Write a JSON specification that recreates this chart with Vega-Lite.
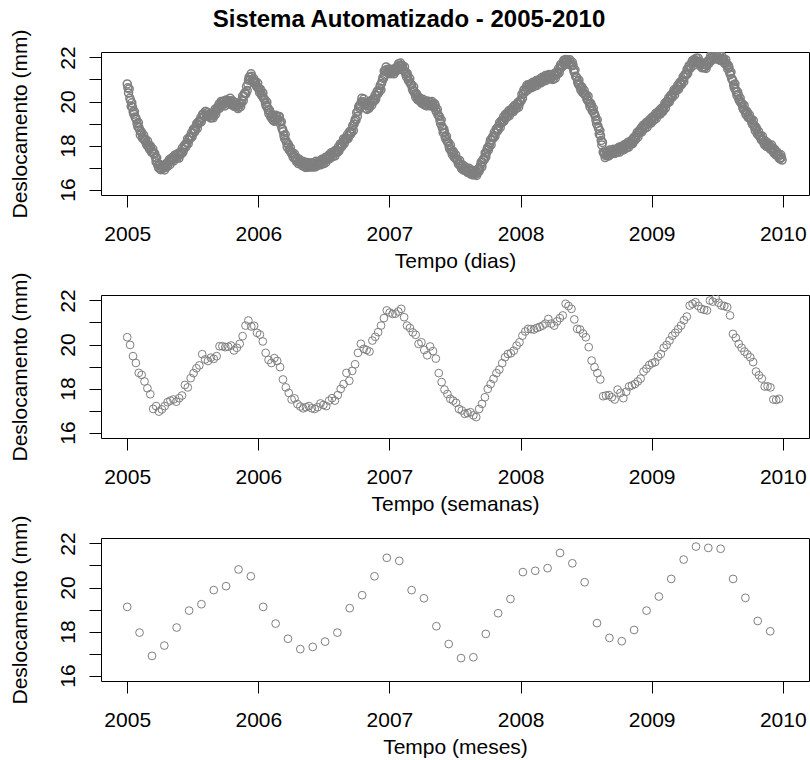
{
"$schema": "https://vega.github.io/schema/vega-lite/v6.json",
"background": "white",
"padding": {"left": 8, "top": 8, "right": 0, "bottom": 0},
"title": {"text": "Sistema Automatizado - 2005-2010", "fontSize": 24, "fontWeight": "bold", "font": "Liberation Sans", "color": "black", "anchor": "middle", "offset": -4},
"bounds": "flush",
"spacing": 100,
"config": {
  "view": {"stroke": "black", "strokeWidth": 1},
  "font": "Liberation Sans",
  "axis": {"domain": false, "grid": false, "ticks": true, "tickSize": 12, "tickColor": "black", "tickWidth": 1, "labelFont": "Liberation Sans", "labelFontSize": 21, "labelColor": "black", "labelOverlap": false, "labelFlush": false, "titleFont": "Liberation Sans", "titleFontSize": 21, "titleFontWeight": "normal", "titleColor": "black"},
  "axisX": {"labelPadding": 16},
  "axisY": {"labelAngle": -90, "labelAlign": "center", "labelBaseline": "alphabetic", "labelPadding": 15, "titleAngle": -90, "titleAlign": "center", "titleBaseline": "middle"}
},
"datasets": {
"dias": [
{"t":2005.00,"v":20.80},{"t":2005.01,"v":20.39},{"t":2005.02,"v":20.15},{"t":2005.03,"v":19.78},{"t":2005.04,"v":19.75},{"t":2005.05,"v":19.42},{"t":2005.06,"v":19.30},{"t":2005.07,"v":19.18},{"t":2005.08,"v":18.86},{"t":2005.09,"v":18.81},
{"t":2005.10,"v":18.48},{"t":2005.11,"v":18.57},{"t":2005.12,"v":18.35},{"t":2005.13,"v":18.27},{"t":2005.14,"v":18.28},{"t":2005.15,"v":18.02},{"t":2005.16,"v":18.03},{"t":2005.17,"v":17.83},{"t":2005.18,"v":17.92},{"t":2005.19,"v":17.72},
{"t":2005.20,"v":17.66},{"t":2005.21,"v":17.63},{"t":2005.22,"v":17.26},{"t":2005.23,"v":17.18},{"t":2005.24,"v":16.98},{"t":2005.25,"v":17.12},{"t":2005.26,"v":16.95},{"t":2005.27,"v":17.03},{"t":2005.28,"v":17.07},{"t":2005.29,"v":16.99},
{"t":2005.30,"v":17.15},{"t":2005.31,"v":17.10},{"t":2005.32,"v":17.35},{"t":2005.33,"v":17.29},{"t":2005.34,"v":17.38},{"t":2005.35,"v":17.48},{"t":2005.36,"v":17.39},{"t":2005.37,"v":17.53},{"t":2005.38,"v":17.42},{"t":2005.39,"v":17.65},
{"t":2005.40,"v":17.57},{"t":2005.41,"v":17.68},{"t":2005.42,"v":17.88},{"t":2005.43,"v":17.82},{"t":2005.44,"v":18.03},{"t":2005.45,"v":17.98},{"t":2005.46,"v":18.30},{"t":2005.47,"v":18.25},{"t":2005.48,"v":18.40},{"t":2005.49,"v":18.58},
{"t":2005.50,"v":18.56},{"t":2005.51,"v":18.73},{"t":2005.52,"v":18.72},{"t":2005.53,"v":19.00},{"t":2005.54,"v":18.97},{"t":2005.55,"v":19.10},{"t":2005.56,"v":19.26},{"t":2005.57,"v":19.24},{"t":2005.58,"v":19.43},{"t":2005.59,"v":19.38},
{"t":2005.60,"v":19.55},{"t":2005.61,"v":19.37},{"t":2005.62,"v":19.38},{"t":2005.63,"v":19.43},{"t":2005.64,"v":19.27},{"t":2005.65,"v":19.37},{"t":2005.66,"v":19.35},{"t":2005.67,"v":19.65},{"t":2005.68,"v":19.59},{"t":2005.69,"v":19.72},
{"t":2005.70,"v":19.88},{"t":2005.71,"v":19.82},{"t":2005.72,"v":19.96},{"t":2005.73,"v":19.85},{"t":2005.74,"v":20.02},{"t":2005.75,"v":19.95},{"t":2005.76,"v":20.02},{"t":2005.77,"v":20.05},{"t":2005.78,"v":19.97},{"t":2005.79,"v":20.03},
{"t":2005.80,"v":19.85},{"t":2005.81,"v":20.00},{"t":2005.82,"v":19.82},{"t":2005.83,"v":19.82},{"t":2005.84,"v":19.86},{"t":2005.85,"v":19.74},{"t":2005.86,"v":19.88},{"t":2005.87,"v":19.92},{"t":2005.88,"v":20.25},{"t":2005.89,"v":20.25},
{"t":2005.90,"v":20.40},{"t":2005.91,"v":20.68},{"t":2005.92,"v":20.79},{"t":2005.93,"v":21.11},{"t":2005.94,"v":21.10},{"t":2005.95,"v":21.15},{"t":2005.96,"v":20.92},{"t":2005.97,"v":20.90},{"t":2005.98,"v":20.90},{"t":2005.99,"v":20.66},
{"t":2006.00,"v":20.63},{"t":2006.01,"v":20.40},{"t":2006.02,"v":20.50},{"t":2006.03,"v":20.27},{"t":2006.04,"v":20.15},{"t":2006.05,"v":20.08},{"t":2006.06,"v":19.79},{"t":2006.07,"v":19.73},{"t":2006.08,"v":19.45},{"t":2006.09,"v":19.52},
{"t":2006.10,"v":19.27},{"t":2006.11,"v":19.18},{"t":2006.12,"v":19.28},{"t":2006.13,"v":19.19},{"t":2006.14,"v":19.31},{"t":2006.15,"v":19.15},{"t":2006.16,"v":19.32},{"t":2006.17,"v":18.97},{"t":2006.18,"v":18.78},{"t":2006.19,"v":18.63},
{"t":2006.20,"v":18.32},{"t":2006.21,"v":18.23},{"t":2006.22,"v":17.93},{"t":2006.23,"v":18.02},{"t":2006.24,"v":17.77},{"t":2006.25,"v":17.68},{"t":2006.26,"v":17.66},{"t":2006.27,"v":17.44},{"t":2006.28,"v":17.48},{"t":2006.29,"v":17.28},
{"t":2006.30,"v":17.40},{"t":2006.31,"v":17.24},{"t":2006.32,"v":17.22},{"t":2006.33,"v":17.26},{"t":2006.34,"v":17.09},{"t":2006.35,"v":17.15},{"t":2006.36,"v":17.00},{"t":2006.37,"v":17.23},{"t":2006.38,"v":17.07},{"t":2006.39,"v":17.08},
{"t":2006.40,"v":17.20},{"t":2006.41,"v":17.04},{"t":2006.42,"v":17.18},{"t":2006.43,"v":17.02},{"t":2006.44,"v":17.28},{"t":2006.45,"v":17.12},{"t":2006.46,"v":17.20},{"t":2006.47,"v":17.30},{"t":2006.48,"v":17.19},{"t":2006.49,"v":17.33},
{"t":2006.50,"v":17.18},{"t":2006.51,"v":17.45},{"t":2006.52,"v":17.37},{"t":2006.53,"v":17.45},{"t":2006.54,"v":17.58},{"t":2006.55,"v":17.49},{"t":2006.56,"v":17.61},{"t":2006.57,"v":17.50},{"t":2006.58,"v":17.75},{"t":2006.59,"v":17.67},
{"t":2006.60,"v":17.75},{"t":2006.61,"v":17.93},{"t":2006.62,"v":17.89},{"t":2006.63,"v":18.05},{"t":2006.64,"v":18.00},{"t":2006.65,"v":18.30},{"t":2006.66,"v":18.22},{"t":2006.67,"v":18.33},{"t":2006.68,"v":18.50},{"t":2006.69,"v":18.44},
{"t":2006.70,"v":18.63},{"t":2006.71,"v":18.60},{"t":2006.72,"v":18.90},{"t":2006.73,"v":18.97},{"t":2006.74,"v":19.20},{"t":2006.75,"v":19.50},{"t":2006.76,"v":19.56},{"t":2006.77,"v":19.81},{"t":2006.78,"v":19.82},{"t":2006.79,"v":20.15},
{"t":2006.80,"v":19.99},{"t":2006.81,"v":19.90},{"t":2006.82,"v":19.86},{"t":2006.83,"v":19.64},{"t":2006.84,"v":19.81},{"t":2006.85,"v":19.78},{"t":2006.86,"v":20.05},{"t":2006.87,"v":19.99},{"t":2006.88,"v":20.08},{"t":2006.89,"v":20.28},
{"t":2006.90,"v":20.26},{"t":2006.91,"v":20.48},{"t":2006.92,"v":20.45},{"t":2006.93,"v":20.75},{"t":2006.94,"v":20.82},{"t":2006.95,"v":21.10},{"t":2006.96,"v":21.38},{"t":2006.97,"v":21.39},{"t":2006.98,"v":21.45},{"t":2006.99,"v":21.30},
{"t":2007.00,"v":21.48},{"t":2007.01,"v":21.32},{"t":2007.02,"v":21.38},{"t":2007.03,"v":21.44},{"t":2007.04,"v":21.34},{"t":2007.05,"v":21.51},{"t":2007.06,"v":21.45},{"t":2007.07,"v":21.72},{"t":2007.08,"v":21.63},{"t":2007.09,"v":21.65},
{"t":2007.10,"v":21.63},{"t":2007.11,"v":21.39},{"t":2007.12,"v":21.35},{"t":2007.13,"v":21.12},{"t":2007.14,"v":21.18},{"t":2007.15,"v":20.92},{"t":2007.16,"v":20.82},{"t":2007.17,"v":20.76},{"t":2007.18,"v":20.49},{"t":2007.19,"v":20.45},
{"t":2007.20,"v":20.20},{"t":2007.21,"v":20.30},{"t":2007.22,"v":20.07},{"t":2007.23,"v":20.05},{"t":2007.24,"v":20.10},{"t":2007.25,"v":19.92},{"t":2007.26,"v":19.98},{"t":2007.27,"v":19.83},{"t":2007.28,"v":20.02},{"t":2007.29,"v":19.89},
{"t":2007.30,"v":19.88},{"t":2007.31,"v":19.98},{"t":2007.32,"v":19.82},{"t":2007.33,"v":19.89},{"t":2007.34,"v":19.74},{"t":2007.35,"v":19.80},{"t":2007.36,"v":19.52},{"t":2007.37,"v":19.40},{"t":2007.38,"v":19.32},{"t":2007.39,"v":18.99},
{"t":2007.40,"v":18.88},{"t":2007.41,"v":18.58},{"t":2007.42,"v":18.60},{"t":2007.43,"v":18.30},{"t":2007.44,"v":18.20},{"t":2007.45,"v":18.13},{"t":2007.46,"v":17.84},{"t":2007.47,"v":17.81},{"t":2007.48,"v":17.58},{"t":2007.49,"v":17.68},
{"t":2007.50,"v":17.45},{"t":2007.51,"v":17.38},{"t":2007.52,"v":17.36},{"t":2007.53,"v":17.14},{"t":2007.54,"v":17.15},{"t":2007.55,"v":16.95},{"t":2007.56,"v":17.10},{"t":2007.57,"v":16.92},{"t":2007.58,"v":16.90},{"t":2007.59,"v":16.96},
{"t":2007.60,"v":16.79},{"t":2007.61,"v":16.85},{"t":2007.62,"v":16.70},{"t":2007.63,"v":16.88},{"t":2007.64,"v":16.73},{"t":2007.65,"v":16.74},{"t":2007.66,"v":16.82},{"t":2007.67,"v":16.74},{"t":2007.68,"v":16.95},{"t":2007.69,"v":16.95},
{"t":2007.70,"v":17.25},{"t":2007.71,"v":17.24},{"t":2007.72,"v":17.42},{"t":2007.73,"v":17.66},{"t":2007.74,"v":17.66},{"t":2007.75,"v":17.91},{"t":2007.76,"v":17.93},{"t":2007.77,"v":18.25},{"t":2007.78,"v":18.25},{"t":2007.79,"v":18.40},
{"t":2007.80,"v":18.60},{"t":2007.81,"v":18.58},{"t":2007.82,"v":18.77},{"t":2007.83,"v":18.74},{"t":2007.84,"v":19.04},{"t":2007.85,"v":19.01},{"t":2007.86,"v":19.12},{"t":2007.87,"v":19.30},{"t":2007.88,"v":19.24},{"t":2007.89,"v":19.39},
{"t":2007.90,"v":19.32},{"t":2007.91,"v":19.58},{"t":2007.92,"v":19.50},{"t":2007.93,"v":19.58},{"t":2007.94,"v":19.72},{"t":2007.95,"v":19.64},{"t":2007.96,"v":19.78},{"t":2007.97,"v":19.70},{"t":2007.98,"v":19.96},{"t":2007.99,"v":19.89},
{"t":2008.00,"v":20.08},{"t":2008.01,"v":20.33},{"t":2008.02,"v":20.34},{"t":2008.03,"v":20.55},{"t":2008.04,"v":20.50},{"t":2008.05,"v":20.75},{"t":2008.06,"v":20.65},{"t":2008.07,"v":20.70},{"t":2008.08,"v":20.81},{"t":2008.09,"v":20.69},
{"t":2008.10,"v":20.81},{"t":2008.11,"v":20.72},{"t":2008.12,"v":20.95},{"t":2008.13,"v":20.85},{"t":2008.14,"v":20.90},{"t":2008.15,"v":21.03},{"t":2008.16,"v":20.92},{"t":2008.17,"v":21.03},{"t":2008.18,"v":20.95},{"t":2008.19,"v":21.18},
{"t":2008.20,"v":21.07},{"t":2008.21,"v":21.12},{"t":2008.22,"v":21.23},{"t":2008.23,"v":21.04},{"t":2008.24,"v":21.11},{"t":2008.25,"v":21.02},{"t":2008.26,"v":21.28},{"t":2008.27,"v":21.21},{"t":2008.28,"v":21.30},{"t":2008.29,"v":21.50},
{"t":2008.30,"v":21.49},{"t":2008.31,"v":21.68},{"t":2008.32,"v":21.62},{"t":2008.33,"v":21.88},{"t":2008.34,"v":21.79},{"t":2008.35,"v":21.85},{"t":2008.36,"v":21.88},{"t":2008.37,"v":21.72},{"t":2008.38,"v":21.78},{"t":2008.39,"v":21.62},
{"t":2008.40,"v":21.65},{"t":2008.41,"v":21.32},{"t":2008.42,"v":21.15},{"t":2008.43,"v":21.08},{"t":2008.44,"v":20.79},{"t":2008.45,"v":20.75},{"t":2008.46,"v":20.52},{"t":2008.47,"v":20.62},{"t":2008.48,"v":20.39},{"t":2008.49,"v":20.32},
{"t":2008.50,"v":20.30},{"t":2008.51,"v":20.06},{"t":2008.52,"v":20.01},{"t":2008.53,"v":19.75},{"t":2008.54,"v":19.82},{"t":2008.55,"v":19.57},{"t":2008.56,"v":19.47},{"t":2008.57,"v":19.33},{"t":2008.58,"v":18.99},{"t":2008.59,"v":18.88},
{"t":2008.60,"v":18.52},{"t":2008.61,"v":18.45},{"t":2008.62,"v":18.02},{"t":2008.63,"v":17.70},{"t":2008.64,"v":17.63},{"t":2008.65,"v":17.54},{"t":2008.66,"v":17.68},{"t":2008.67,"v":17.52},{"t":2008.68,"v":17.80},{"t":2008.69,"v":17.65},
{"t":2008.70,"v":17.72},{"t":2008.71,"v":17.83},{"t":2008.72,"v":17.64},{"t":2008.73,"v":17.81},{"t":2008.74,"v":17.70},{"t":2008.75,"v":17.92},{"t":2008.76,"v":17.82},{"t":2008.77,"v":17.88},{"t":2008.78,"v":17.98},{"t":2008.79,"v":17.87},
{"t":2008.80,"v":17.99},{"t":2008.81,"v":17.90},{"t":2008.82,"v":18.15},{"t":2008.83,"v":18.05},{"t":2008.84,"v":18.12},{"t":2008.85,"v":18.26},{"t":2008.86,"v":18.19},{"t":2008.87,"v":18.36},{"t":2008.88,"v":18.32},{"t":2008.89,"v":18.60},
{"t":2008.90,"v":18.55},{"t":2008.91,"v":18.65},{"t":2008.92,"v":18.80},{"t":2008.93,"v":18.74},{"t":2008.94,"v":18.88},{"t":2008.95,"v":18.80},{"t":2008.96,"v":19.05},{"t":2008.97,"v":18.99},{"t":2008.98,"v":19.08},{"t":2008.99,"v":19.20},
{"t":2009.00,"v":19.11},{"t":2009.01,"v":19.25},{"t":2009.02,"v":19.18},{"t":2009.03,"v":19.45},{"t":2009.04,"v":19.39},{"t":2009.05,"v":19.48},{"t":2009.06,"v":19.60},{"t":2009.07,"v":19.51},{"t":2009.08,"v":19.65},{"t":2009.09,"v":19.62},
{"t":2009.10,"v":19.92},{"t":2009.11,"v":19.89},{"t":2009.12,"v":20.00},{"t":2009.13,"v":20.16},{"t":2009.14,"v":20.10},{"t":2009.15,"v":20.28},{"t":2009.16,"v":20.24},{"t":2009.17,"v":20.52},{"t":2009.18,"v":20.47},{"t":2009.19,"v":20.58},
{"t":2009.20,"v":20.74},{"t":2009.21,"v":20.69},{"t":2009.22,"v":20.86},{"t":2009.23,"v":20.81},{"t":2009.24,"v":21.12},{"t":2009.25,"v":21.11},{"t":2009.26,"v":21.26},{"t":2009.27,"v":21.46},{"t":2009.28,"v":21.45},{"t":2009.29,"v":21.63},
{"t":2009.30,"v":21.58},{"t":2009.31,"v":21.85},{"t":2009.32,"v":21.79},{"t":2009.33,"v":21.86},{"t":2009.34,"v":21.97},{"t":2009.35,"v":21.79},{"t":2009.36,"v":21.83},{"t":2009.37,"v":21.62},{"t":2009.38,"v":21.75},{"t":2009.39,"v":21.57},
{"t":2009.40,"v":21.58},{"t":2009.41,"v":21.68},{"t":2009.42,"v":21.64},{"t":2009.43,"v":21.83},{"t":2009.44,"v":21.80},{"t":2009.45,"v":22.08},{"t":2009.46,"v":21.99},{"t":2009.47,"v":22.05},{"t":2009.48,"v":22.12},{"t":2009.49,"v":21.96},
{"t":2009.50,"v":22.03},{"t":2009.51,"v":21.92},{"t":2009.52,"v":22.08},{"t":2009.53,"v":21.94},{"t":2009.54,"v":21.92},{"t":2009.55,"v":21.93},{"t":2009.56,"v":21.72},{"t":2009.57,"v":21.73},{"t":2009.58,"v":21.48},{"t":2009.59,"v":21.55},
{"t":2009.60,"v":21.22},{"t":2009.61,"v":21.05},{"t":2009.62,"v":20.93},{"t":2009.63,"v":20.62},{"t":2009.64,"v":20.55},{"t":2009.65,"v":20.28},{"t":2009.66,"v":20.32},{"t":2009.67,"v":20.03},{"t":2009.68,"v":19.95},{"t":2009.69,"v":19.90},
{"t":2009.70,"v":19.64},{"t":2009.71,"v":19.61},{"t":2009.72,"v":19.40},{"t":2009.73,"v":19.50},{"t":2009.74,"v":19.27},{"t":2009.75,"v":19.22},{"t":2009.76,"v":19.20},{"t":2009.77,"v":18.96},{"t":2009.78,"v":18.93},{"t":2009.79,"v":18.68},
{"t":2009.80,"v":18.76},{"t":2009.81,"v":18.52},{"t":2009.82,"v":18.45},{"t":2009.83,"v":18.46},{"t":2009.84,"v":18.24},{"t":2009.85,"v":18.25},{"t":2009.86,"v":18.04},{"t":2009.87,"v":18.18},{"t":2009.88,"v":17.99},{"t":2009.89,"v":17.98},
{"t":2009.90,"v":18.02},{"t":2009.91,"v":17.84},{"t":2009.92,"v":17.89},{"t":2009.93,"v":17.68},{"t":2009.94,"v":17.80},{"t":2009.95,"v":17.59},{"t":2009.96,"v":17.55},{"t":2009.97,"v":17.58},{"t":2009.98,"v":17.40},{"t":2009.99,"v":17.45},
{"t":2005.005,"v":20.62},{"t":2005.015,"v":20.57},{"t":2005.025,"v":20.04},{"t":2005.035,"v":19.94},{"t":2005.045,"v":19.53},{"t":2005.055,"v":19.54},{"t":2005.065,"v":19.25},{"t":2005.075,"v":19.00},{"t":2005.085,"v":19.04},{"t":2005.095,"v":18.70},
{"t":2005.105,"v":18.64},{"t":2005.115,"v":18.35},{"t":2005.125,"v":18.47},{"t":2005.135,"v":18.22},{"t":2005.145,"v":18.10},{"t":2005.155,"v":18.20},{"t":2005.165,"v":17.92},{"t":2005.175,"v":17.99},{"t":2005.185,"v":17.70},{"t":2005.195,"v":17.84},
{"t":2005.205,"v":17.61},{"t":2005.215,"v":17.45},{"t":2005.225,"v":17.44},{"t":2005.235,"v":17.07},{"t":2005.245,"v":17.14},{"t":2005.255,"v":16.90},{"t":2005.265,"v":17.07},{"t":2005.275,"v":16.98},{"t":2005.285,"v":16.89},{"t":2005.295,"v":17.17},
{"t":2005.305,"v":17.04},{"t":2005.315,"v":17.26},{"t":2005.325,"v":17.13},{"t":2005.335,"v":17.41},{"t":2005.345,"v":17.33},{"t":2005.355,"v":17.30},{"t":2005.365,"v":17.57},{"t":2005.375,"v":17.42},{"t":2005.385,"v":17.58},{"t":2005.395,"v":17.43},
{"t":2005.405,"v":17.69},{"t":2005.415,"v":17.63},{"t":2005.425,"v":17.70},{"t":2005.435,"v":18.00},{"t":2005.445,"v":17.92},{"t":2005.455,"v":18.14},{"t":2005.465,"v":18.08},{"t":2005.475,"v":18.37},{"t":2005.485,"v":18.35},{"t":2005.495,"v":18.40},
{"t":2005.505,"v":18.74},{"t":2005.515,"v":18.62},{"t":2005.525,"v":18.88},{"t":2005.535,"v":18.78},{"t":2005.545,"v":19.09},{"t":2005.555,"v":19.05},{"t":2005.565,"v":19.08},{"t":2005.575,"v":19.42},{"t":2005.585,"v":19.32},{"t":2005.595,"v":19.54},
{"t":2005.605,"v":19.33},{"t":2005.615,"v":19.49},{"t":2005.625,"v":19.33},{"t":2005.635,"v":19.25},{"t":2005.645,"v":19.45},{"t":2005.655,"v":19.26},{"t":2005.665,"v":19.51},{"t":2005.675,"v":19.43},{"t":2005.685,"v":19.71},{"t":2005.695,"v":19.67},
{"t":2005.705,"v":19.70},{"t":2005.715,"v":20.00},{"t":2005.725,"v":19.85},{"t":2005.735,"v":20.01},{"t":2005.745,"v":19.80},{"t":2005.755,"v":20.07},{"t":2005.765,"v":19.97},{"t":2005.775,"v":19.87},{"t":2005.785,"v":20.15},{"t":2005.795,"v":19.92},
{"t":2005.805,"v":20.01},{"t":2005.815,"v":19.78},{"t":2005.825,"v":19.94},{"t":2005.835,"v":19.77},{"t":2005.845,"v":19.68},{"t":2005.855,"v":19.92},{"t":2005.865,"v":19.77},{"t":2005.875,"v":20.08},{"t":2005.885,"v":20.03},{"t":2005.895,"v":20.37},
{"t":2005.905,"v":20.35},{"t":2005.915,"v":20.50},{"t":2005.925,"v":20.97},{"t":2005.935,"v":21.00},{"t":2005.945,"v":21.26},{"t":2005.955,"v":20.93},{"t":2005.965,"v":21.04},{"t":2005.975,"v":20.85},{"t":2005.985,"v":20.72},{"t":2005.995,"v":20.84},
{"t":2006.005,"v":20.52},{"t":2006.015,"v":20.56},{"t":2006.025,"v":20.28},{"t":2006.035,"v":20.39},{"t":2006.045,"v":20.10},{"t":2006.055,"v":19.90},{"t":2006.065,"v":19.97},{"t":2006.075,"v":19.62},{"t":2006.085,"v":19.61},{"t":2006.095,"v":19.30},
{"t":2006.105,"v":19.39},{"t":2006.115,"v":19.13},{"t":2006.125,"v":19.10},{"t":2006.135,"v":19.37},{"t":2006.145,"v":19.20},{"t":2006.155,"v":19.31},{"t":2006.165,"v":19.10},{"t":2006.175,"v":19.09},{"t":2006.185,"v":18.73},{"t":2006.195,"v":18.45},
{"t":2006.205,"v":18.50},{"t":2006.215,"v":18.12},{"t":2006.225,"v":18.09},{"t":2006.235,"v":17.80},{"t":2006.245,"v":17.89},{"t":2006.255,"v":17.63},{"t":2006.265,"v":17.48},{"t":2006.275,"v":17.62},{"t":2006.285,"v":17.37},{"t":2006.295,"v":17.44},
{"t":2006.305,"v":17.18},{"t":2006.315,"v":17.36},{"t":2006.325,"v":17.17},{"t":2006.335,"v":17.08},{"t":2006.345,"v":17.27},{"t":2006.355,"v":17.04},{"t":2006.365,"v":17.16},{"t":2006.375,"v":17.01},{"t":2006.385,"v":17.19},{"t":2006.395,"v":17.03},
{"t":2006.405,"v":17.02},{"t":2006.415,"v":17.22},{"t":2006.425,"v":17.07},{"t":2006.435,"v":17.18},{"t":2006.445,"v":17.06},{"t":2006.455,"v":17.24},{"t":2006.465,"v":17.15},{"t":2006.475,"v":17.12},{"t":2006.485,"v":17.37},{"t":2006.495,"v":17.22},
{"t":2006.505,"v":17.34},{"t":2006.515,"v":17.23},{"t":2006.525,"v":17.49},{"t":2006.535,"v":17.40},{"t":2006.545,"v":17.40},{"t":2006.555,"v":17.67},{"t":2006.565,"v":17.50},{"t":2006.575,"v":17.66},{"t":2006.585,"v":17.53},{"t":2006.595,"v":17.79},
{"t":2006.605,"v":17.70},{"t":2006.615,"v":17.75},{"t":2006.625,"v":18.07},{"t":2006.635,"v":17.94},{"t":2006.645,"v":18.16},{"t":2006.655,"v":18.08},{"t":2006.665,"v":18.34},{"t":2006.675,"v":18.28},{"t":2006.685,"v":18.32},{"t":2006.695,"v":18.62},
{"t":2006.705,"v":18.52},{"t":2006.715,"v":18.76},{"t":2006.725,"v":18.68},{"t":2006.735,"v":19.09},{"t":2006.745,"v":19.15},{"t":2006.755,"v":19.32},{"t":2006.765,"v":19.74},{"t":2006.775,"v":19.70},{"t":2006.785,"v":19.98},{"t":2006.795,"v":19.93},
{"t":2006.805,"v":20.11},{"t":2006.815,"v":19.85},{"t":2006.825,"v":19.68},{"t":2006.835,"v":19.82},{"t":2006.845,"v":19.70},{"t":2006.855,"v":19.94},{"t":2006.865,"v":19.83},{"t":2006.875,"v":20.11},{"t":2006.885,"v":20.03},{"t":2006.895,"v":20.10},
{"t":2006.905,"v":20.44},{"t":2006.915,"v":20.37},{"t":2006.925,"v":20.61},{"t":2006.935,"v":20.53},{"t":2006.945,"v":20.94},{"t":2006.955,"v":21.05},{"t":2006.965,"v":21.20},{"t":2006.975,"v":21.57},{"t":2006.985,"v":21.34},{"t":2006.995,"v":21.46},
{"t":2007.005,"v":21.26},{"t":2007.015,"v":21.44},{"t":2007.025,"v":21.33},{"t":2007.035,"v":21.26},{"t":2007.045,"v":21.52},{"t":2007.055,"v":21.40},{"t":2007.065,"v":21.61},{"t":2007.075,"v":21.50},{"t":2007.085,"v":21.75},{"t":2007.095,"v":21.60},
{"t":2007.105,"v":21.45},{"t":2007.115,"v":21.57},{"t":2007.125,"v":21.24},{"t":2007.135,"v":21.28},{"t":2007.145,"v":20.96},{"t":2007.155,"v":21.04},{"t":2007.165,"v":20.77},{"t":2007.175,"v":20.58},{"t":2007.185,"v":20.67},{"t":2007.195,"v":20.34},
{"t":2007.205,"v":20.36},{"t":2007.215,"v":20.08},{"t":2007.225,"v":20.19},{"t":2007.235,"v":20.00},{"t":2007.245,"v":19.92},{"t":2007.255,"v":20.10},{"t":2007.265,"v":19.87},{"t":2007.275,"v":19.99},{"t":2007.285,"v":19.80},{"t":2007.295,"v":20.01},
{"t":2007.305,"v":19.83},{"t":2007.315,"v":19.80},{"t":2007.325,"v":20.00},{"t":2007.335,"v":19.78},{"t":2007.345,"v":19.90},{"t":2007.355,"v":19.58},{"t":2007.365,"v":19.64},{"t":2007.375,"v":19.35},{"t":2007.385,"v":19.14},{"t":2007.395,"v":19.17},
{"t":2007.405,"v":18.77},{"t":2007.415,"v":18.74},{"t":2007.425,"v":18.38},{"t":2007.435,"v":18.42},{"t":2007.445,"v":18.15},{"t":2007.455,"v":17.95},{"t":2007.465,"v":18.02},{"t":2007.475,"v":17.70},{"t":2007.485,"v":17.74},{"t":2007.495,"v":17.46},
{"t":2007.505,"v":17.57},{"t":2007.515,"v":17.33},{"t":2007.525,"v":17.18},{"t":2007.535,"v":17.32},{"t":2007.545,"v":17.04},{"t":2007.555,"v":17.11},{"t":2007.565,"v":16.88},{"t":2007.575,"v":17.04},{"t":2007.585,"v":16.85},{"t":2007.595,"v":16.78},
{"t":2007.605,"v":16.97},{"t":2007.615,"v":16.74},{"t":2007.625,"v":16.86},{"t":2007.635,"v":16.66},{"t":2007.645,"v":16.85},{"t":2007.655,"v":16.69},{"t":2007.665,"v":16.64},{"t":2007.675,"v":16.92},{"t":2007.685,"v":16.84},{"t":2007.695,"v":17.11},
{"t":2007.705,"v":17.03},{"t":2007.715,"v":17.36},{"t":2007.725,"v":17.37},{"t":2007.735,"v":17.48},{"t":2007.745,"v":17.84},{"t":2007.755,"v":17.80},{"t":2007.765,"v":18.09},{"t":2007.775,"v":18.03},{"t":2007.785,"v":18.37},{"t":2007.795,"v":18.35},
{"t":2007.805,"v":18.42},{"t":2007.815,"v":18.76},{"t":2007.825,"v":18.66},{"t":2007.835,"v":18.90},{"t":2007.845,"v":18.82},{"t":2007.855,"v":19.13},{"t":2007.865,"v":19.07},{"t":2007.875,"v":19.12},{"t":2007.885,"v":19.42},{"t":2007.895,"v":19.28},
{"t":2007.905,"v":19.48},{"t":2007.915,"v":19.36},{"t":2007.925,"v":19.62},{"t":2007.935,"v":19.53},{"t":2007.945,"v":19.54},{"t":2007.955,"v":19.82},{"t":2007.965,"v":19.67},{"t":2007.975,"v":19.86},{"t":2007.985,"v":19.74},{"t":2007.995,"v":20.01},
{"t":2008.005,"v":20.03},{"t":2008.015,"v":20.15},{"t":2008.025,"v":20.52},{"t":2008.035,"v":20.44},{"t":2008.045,"v":20.66},{"t":2008.055,"v":20.53},{"t":2008.065,"v":20.77},{"t":2008.075,"v":20.65},{"t":2008.085,"v":20.63},{"t":2008.095,"v":20.87},
{"t":2008.105,"v":20.70},{"t":2008.115,"v":20.88},{"t":2008.125,"v":20.73},{"t":2008.135,"v":20.97},{"t":2008.145,"v":20.85},{"t":2008.155,"v":20.85},{"t":2008.165,"v":21.10},{"t":2008.175,"v":20.92},{"t":2008.185,"v":21.11},{"t":2008.195,"v":20.96},
{"t":2008.205,"v":21.19},{"t":2008.215,"v":21.07},{"t":2008.225,"v":21.05},{"t":2008.235,"v":21.22},{"t":2008.245,"v":21.00},{"t":2008.255,"v":21.18},{"t":2008.265,"v":21.06},{"t":2008.275,"v":21.33},{"t":2008.285,"v":21.25},{"t":2008.295,"v":21.32},
{"t":2008.305,"v":21.67},{"t":2008.315,"v":21.57},{"t":2008.325,"v":21.78},{"t":2008.335,"v":21.66},{"t":2008.345,"v":21.91},{"t":2008.355,"v":21.80},{"t":2008.365,"v":21.70},{"t":2008.375,"v":21.90},{"t":2008.385,"v":21.67},{"t":2008.395,"v":21.78},
{"t":2008.405,"v":21.43},{"t":2008.415,"v":21.44},{"t":2008.425,"v":21.10},{"t":2008.435,"v":20.90},{"t":2008.445,"v":20.97},{"t":2008.455,"v":20.64},{"t":2008.465,"v":20.68},{"t":2008.475,"v":20.40},{"t":2008.485,"v":20.51},{"t":2008.495,"v":20.27},
{"t":2008.505,"v":20.12},{"t":2008.515,"v":20.24},{"t":2008.525,"v":19.90},{"t":2008.535,"v":19.91},{"t":2008.545,"v":19.60},{"t":2008.555,"v":19.69},{"t":2008.565,"v":19.42},{"t":2008.575,"v":19.15},{"t":2008.585,"v":19.17},{"t":2008.595,"v":18.77},
{"t":2008.605,"v":18.68},{"t":2008.615,"v":18.23},{"t":2008.625,"v":18.14},{"t":2008.635,"v":17.65},{"t":2008.645,"v":17.45},{"t":2008.655,"v":17.72},{"t":2008.665,"v":17.57},{"t":2008.675,"v":17.68},{"t":2008.685,"v":17.58},{"t":2008.695,"v":17.77},
{"t":2008.705,"v":17.67},{"t":2008.715,"v":17.65},{"t":2008.725,"v":17.82},{"t":2008.735,"v":17.70},{"t":2008.745,"v":17.86},{"t":2008.755,"v":17.70},{"t":2008.765,"v":17.94},{"t":2008.775,"v":17.83},{"t":2008.785,"v":17.80},{"t":2008.795,"v":18.05},
{"t":2008.805,"v":17.88},{"t":2008.815,"v":18.06},{"t":2008.825,"v":17.93},{"t":2008.835,"v":18.17},{"t":2008.845,"v":18.07},{"t":2008.855,"v":18.08},{"t":2008.865,"v":18.37},{"t":2008.875,"v":18.25},{"t":2008.885,"v":18.48},{"t":2008.895,"v":18.38},
{"t":2008.905,"v":18.67},{"t":2008.915,"v":18.60},{"t":2008.925,"v":18.62},{"t":2008.935,"v":18.92},{"t":2008.945,"v":18.77},{"t":2008.955,"v":18.96},{"t":2008.965,"v":18.83},{"t":2008.975,"v":19.11},{"t":2008.985,"v":19.03},{"t":2008.995,"v":19.02},
{"t":2009.005,"v":19.29},{"t":2009.015,"v":19.14},{"t":2009.025,"v":19.34},{"t":2009.035,"v":19.23},{"t":2009.045,"v":19.51},{"t":2009.055,"v":19.43},{"t":2009.065,"v":19.42},{"t":2009.075,"v":19.69},{"t":2009.085,"v":19.54},{"t":2009.095,"v":19.78},
{"t":2009.105,"v":19.70},{"t":2009.115,"v":20.01},{"t":2009.125,"v":19.95},{"t":2009.135,"v":19.98},{"t":2009.145,"v":20.28},{"t":2009.155,"v":20.17},{"t":2009.165,"v":20.40},{"t":2009.175,"v":20.30},{"t":2009.185,"v":20.59},{"t":2009.195,"v":20.53},
{"t":2009.205,"v":20.56},{"t":2009.215,"v":20.87},{"t":2009.225,"v":20.75},{"t":2009.235,"v":20.97},{"t":2009.245,"v":20.90},{"t":2009.255,"v":21.23},{"t":2009.265,"v":21.21},{"t":2009.275,"v":21.28},{"t":2009.285,"v":21.63},{"t":2009.295,"v":21.52},
{"t":2009.305,"v":21.74},{"t":2009.315,"v":21.63},{"t":2009.325,"v":21.91},{"t":2009.335,"v":21.81},{"t":2009.345,"v":21.79},{"t":2009.355,"v":21.97},{"t":2009.365,"v":21.72},{"t":2009.375,"v":21.78},{"t":2009.385,"v":21.53},{"t":2009.395,"v":21.69},
{"t":2009.405,"v":21.53},{"t":2009.415,"v":21.50},{"t":2009.425,"v":21.82},{"t":2009.435,"v":21.72},{"t":2009.445,"v":21.96},{"t":2009.455,"v":21.86},{"t":2009.465,"v":22.11},{"t":2009.475,"v":22.00},{"t":2009.485,"v":21.94},{"t":2009.495,"v":22.14},
{"t":2009.505,"v":21.92},{"t":2009.515,"v":22.08},{"t":2009.525,"v":21.86},{"t":2009.535,"v":22.06},{"t":2009.545,"v":21.87},{"t":2009.555,"v":21.75},{"t":2009.565,"v":21.90},{"t":2009.575,"v":21.62},{"t":2009.585,"v":21.64},{"t":2009.595,"v":21.33},
{"t":2009.605,"v":21.34},{"t":2009.615,"v":21.00},{"t":2009.625,"v":20.75},{"t":2009.635,"v":20.80},{"t":2009.645,"v":20.44},{"t":2009.655,"v":20.44},{"t":2009.665,"v":20.10},{"t":2009.675,"v":20.15},{"t":2009.685,"v":19.90},{"t":2009.695,"v":19.72},
{"t":2009.705,"v":19.82},{"t":2009.715,"v":19.50},{"t":2009.725,"v":19.56},{"t":2009.735,"v":19.28},{"t":2009.745,"v":19.39},{"t":2009.755,"v":19.17},{"t":2009.765,"v":19.02},{"t":2009.775,"v":19.14},{"t":2009.785,"v":18.82},{"t":2009.795,"v":18.84},
{"t":2009.805,"v":18.54},{"t":2009.815,"v":18.64},{"t":2009.825,"v":18.40},{"t":2009.835,"v":18.28},{"t":2009.845,"v":18.42},{"t":2009.855,"v":18.14},{"t":2009.865,"v":18.20},{"t":2009.875,"v":17.96},{"t":2009.885,"v":18.11},{"t":2009.895,"v":17.93},
{"t":2009.905,"v":17.84},{"t":2009.915,"v":18.02},{"t":2009.925,"v":17.78},{"t":2009.935,"v":17.84},{"t":2009.945,"v":17.58},{"t":2009.955,"v":17.71},{"t":2009.965,"v":17.50},{"t":2009.975,"v":17.40},{"t":2009.985,"v":17.58},{"t":2009.995,"v":17.34}
],
"semanas": [
{"t":2005.000,"v":20.33},{"t":2005.022,"v":19.98},{"t":2005.044,"v":19.47},{"t":2005.066,"v":19.16},{"t":2005.088,"v":18.71},{"t":2005.110,"v":18.62},{"t":2005.132,"v":18.32},{"t":2005.154,"v":18.01},{"t":2005.176,"v":17.74},{"t":2005.198,"v":17.07},
{"t":2005.220,"v":17.20},{"t":2005.242,"v":16.95},{"t":2005.264,"v":17.05},{"t":2005.286,"v":17.20},{"t":2005.308,"v":17.38},{"t":2005.330,"v":17.45},{"t":2005.352,"v":17.50},{"t":2005.374,"v":17.40},{"t":2005.396,"v":17.56},{"t":2005.418,"v":17.68},
{"t":2005.440,"v":18.16},{"t":2005.462,"v":18.05},{"t":2005.484,"v":18.47},{"t":2005.506,"v":18.70},{"t":2005.528,"v":18.92},{"t":2005.550,"v":19.05},{"t":2005.572,"v":19.56},{"t":2005.594,"v":19.32},{"t":2005.616,"v":19.25},{"t":2005.638,"v":19.40},
{"t":2005.660,"v":19.35},{"t":2005.682,"v":19.47},{"t":2005.704,"v":19.92},{"t":2005.726,"v":19.92},{"t":2005.748,"v":19.88},{"t":2005.770,"v":19.90},{"t":2005.792,"v":19.95},{"t":2005.814,"v":19.73},{"t":2005.836,"v":19.85},{"t":2005.858,"v":20.03},
{"t":2005.880,"v":20.38},{"t":2005.902,"v":20.86},{"t":2005.924,"v":21.09},{"t":2005.946,"v":20.82},{"t":2005.968,"v":20.85},{"t":2005.990,"v":20.53},{"t":2006.012,"v":20.45},{"t":2006.034,"v":20.14},{"t":2006.056,"v":19.62},{"t":2006.078,"v":19.30},
{"t":2006.100,"v":19.16},{"t":2006.122,"v":19.38},{"t":2006.144,"v":19.25},{"t":2006.166,"v":18.97},{"t":2006.188,"v":18.41},{"t":2006.210,"v":18.05},{"t":2006.232,"v":17.80},{"t":2006.254,"v":17.50},{"t":2006.276,"v":17.55},{"t":2006.298,"v":17.29},
{"t":2006.320,"v":17.18},{"t":2006.342,"v":17.10},{"t":2006.364,"v":17.15},{"t":2006.386,"v":17.20},{"t":2006.408,"v":17.10},{"t":2006.430,"v":17.07},{"t":2006.452,"v":17.15},{"t":2006.474,"v":17.32},{"t":2006.496,"v":17.25},{"t":2006.518,"v":17.20},
{"t":2006.540,"v":17.45},{"t":2006.562,"v":17.56},{"t":2006.584,"v":17.45},{"t":2006.606,"v":17.70},{"t":2006.628,"v":17.98},{"t":2006.650,"v":18.20},{"t":2006.672,"v":18.71},{"t":2006.694,"v":18.35},{"t":2006.716,"v":18.80},{"t":2006.738,"v":19.10},
{"t":2006.760,"v":19.62},{"t":2006.782,"v":20.03},{"t":2006.804,"v":19.80},{"t":2006.826,"v":19.75},{"t":2006.848,"v":19.68},{"t":2006.870,"v":20.18},{"t":2006.892,"v":20.35},{"t":2006.914,"v":20.56},{"t":2006.936,"v":20.86},{"t":2006.958,"v":21.20},
{"t":2006.980,"v":21.55},{"t":2007.002,"v":21.45},{"t":2007.024,"v":21.39},{"t":2007.046,"v":21.40},{"t":2007.068,"v":21.50},{"t":2007.090,"v":21.62},{"t":2007.112,"v":21.24},{"t":2007.134,"v":20.86},{"t":2007.156,"v":20.75},{"t":2007.178,"v":20.55},
{"t":2007.200,"v":20.44},{"t":2007.222,"v":20.03},{"t":2007.244,"v":20.10},{"t":2007.266,"v":19.75},{"t":2007.288,"v":19.51},{"t":2007.310,"v":19.91},{"t":2007.332,"v":19.70},{"t":2007.354,"v":19.36},{"t":2007.376,"v":18.70},{"t":2007.398,"v":18.29},
{"t":2007.420,"v":17.95},{"t":2007.442,"v":17.75},{"t":2007.464,"v":17.53},{"t":2007.486,"v":17.45},{"t":2007.508,"v":17.35},{"t":2007.530,"v":17.07},{"t":2007.552,"v":17.00},{"t":2007.574,"v":16.85},{"t":2007.596,"v":16.88},{"t":2007.618,"v":16.92},
{"t":2007.640,"v":16.78},{"t":2007.662,"v":16.70},{"t":2007.684,"v":17.07},{"t":2007.706,"v":17.30},{"t":2007.728,"v":17.60},{"t":2007.750,"v":17.98},{"t":2007.772,"v":18.20},{"t":2007.794,"v":18.44},{"t":2007.816,"v":18.70},{"t":2007.838,"v":18.86},
{"t":2007.860,"v":19.15},{"t":2007.882,"v":19.42},{"t":2007.904,"v":19.57},{"t":2007.926,"v":19.60},{"t":2007.948,"v":19.72},{"t":2007.970,"v":19.95},{"t":2007.992,"v":20.10},{"t":2008.014,"v":20.40},{"t":2008.036,"v":20.59},{"t":2008.058,"v":20.71},
{"t":2008.080,"v":20.70},{"t":2008.102,"v":20.68},{"t":2008.124,"v":20.75},{"t":2008.146,"v":20.80},{"t":2008.168,"v":20.86},{"t":2008.190,"v":20.95},{"t":2008.212,"v":21.16},{"t":2008.234,"v":20.95},{"t":2008.256,"v":20.86},{"t":2008.278,"v":21.05},
{"t":2008.300,"v":21.20},{"t":2008.322,"v":21.32},{"t":2008.344,"v":21.85},{"t":2008.366,"v":21.75},{"t":2008.388,"v":21.62},{"t":2008.410,"v":21.14},{"t":2008.432,"v":20.71},{"t":2008.454,"v":20.68},{"t":2008.476,"v":20.50},{"t":2008.498,"v":20.33},
{"t":2008.520,"v":19.88},{"t":2008.542,"v":19.27},{"t":2008.564,"v":18.97},{"t":2008.586,"v":18.70},{"t":2008.608,"v":18.41},{"t":2008.630,"v":17.65},{"t":2008.652,"v":17.68},{"t":2008.674,"v":17.70},{"t":2008.696,"v":17.60},{"t":2008.718,"v":17.50},
{"t":2008.740,"v":17.95},{"t":2008.762,"v":17.80},{"t":2008.784,"v":17.56},{"t":2008.806,"v":17.85},{"t":2008.828,"v":18.09},{"t":2008.850,"v":18.14},{"t":2008.872,"v":18.20},{"t":2008.894,"v":18.32},{"t":2008.916,"v":18.45},{"t":2008.938,"v":18.77},
{"t":2008.960,"v":18.90},{"t":2008.982,"v":19.07},{"t":2009.004,"v":19.15},{"t":2009.026,"v":19.20},{"t":2009.048,"v":19.45},{"t":2009.070,"v":19.57},{"t":2009.092,"v":19.85},{"t":2009.114,"v":19.98},{"t":2009.136,"v":20.18},{"t":2009.158,"v":20.40},
{"t":2009.180,"v":20.53},{"t":2009.202,"v":20.70},{"t":2009.224,"v":20.86},{"t":2009.246,"v":21.10},{"t":2009.268,"v":21.27},{"t":2009.290,"v":21.77},{"t":2009.312,"v":21.85},{"t":2009.334,"v":21.92},{"t":2009.356,"v":21.75},{"t":2009.378,"v":21.62},
{"t":2009.400,"v":21.58},{"t":2009.422,"v":21.55},{"t":2009.444,"v":22.00},{"t":2009.466,"v":21.95},{"t":2009.488,"v":22.10},{"t":2009.510,"v":21.90},{"t":2009.532,"v":21.77},{"t":2009.554,"v":21.75},{"t":2009.576,"v":21.70},{"t":2009.598,"v":21.32},
{"t":2009.620,"v":20.48},{"t":2009.642,"v":20.30},{"t":2009.664,"v":20.03},{"t":2009.686,"v":19.85},{"t":2009.708,"v":19.68},{"t":2009.730,"v":19.55},{"t":2009.752,"v":19.42},{"t":2009.774,"v":19.20},{"t":2009.796,"v":18.77},{"t":2009.818,"v":18.60},
{"t":2009.840,"v":18.45},{"t":2009.862,"v":18.09},{"t":2009.884,"v":18.10},{"t":2009.906,"v":18.05},{"t":2009.928,"v":17.50},{"t":2009.950,"v":17.48},{"t":2009.972,"v":17.53}
],
"meses": [
{"t":2005.000,"v":19.12},{"t":2005.094,"v":17.95},{"t":2005.189,"v":16.89},{"t":2005.283,"v":17.36},{"t":2005.377,"v":18.18},{"t":2005.472,"v":18.95},{"t":2005.566,"v":19.24},{"t":2005.660,"v":19.88},{"t":2005.754,"v":20.06},{"t":2005.849,"v":20.82},
{"t":2005.943,"v":20.51},{"t":2006.037,"v":19.12},{"t":2006.132,"v":18.36},{"t":2006.226,"v":17.67},{"t":2006.320,"v":17.20},{"t":2006.415,"v":17.30},{"t":2006.509,"v":17.54},{"t":2006.603,"v":17.95},{"t":2006.697,"v":19.06},{"t":2006.792,"v":19.65},
{"t":2006.886,"v":20.51},{"t":2006.980,"v":21.35},{"t":2007.075,"v":21.21},{"t":2007.169,"v":19.88},{"t":2007.263,"v":19.51},{"t":2007.358,"v":18.24},{"t":2007.452,"v":17.43},{"t":2007.546,"v":16.79},{"t":2007.640,"v":16.83},{"t":2007.735,"v":17.89},
{"t":2007.829,"v":18.83},{"t":2007.923,"v":19.48},{"t":2008.018,"v":20.70},{"t":2008.112,"v":20.76},{"t":2008.206,"v":20.88},{"t":2008.301,"v":21.57},{"t":2008.395,"v":21.10},{"t":2008.489,"v":20.24},{"t":2008.583,"v":18.38},{"t":2008.678,"v":17.71},
{"t":2008.772,"v":17.56},{"t":2008.866,"v":18.07},{"t":2008.961,"v":18.95},{"t":2009.055,"v":19.59},{"t":2009.149,"v":20.39},{"t":2009.244,"v":21.27},{"t":2009.338,"v":21.86},{"t":2009.432,"v":21.80},{"t":2009.526,"v":21.76},{"t":2009.621,"v":20.39},
{"t":2009.715,"v":19.53},{"t":2009.809,"v":18.48},{"t":2009.904,"v":18.01}
]
},
"vconcat": [
{
  "width": 708, "height": 143,
  "data": {"name": "dias"},
  "mark": {"type": "point", "shape": "circle", "filled": false, "size": 64, "strokeWidth": 1.5, "color": "#7f7f7f", "opacity": 1, "clip": true},
  "encoding": {
    "x": {"field": "t", "type": "quantitative", "scale": {"domain": [2004.8, 2010.2], "nice": false, "zero": false}, "axis": {"values": [2005, 2006, 2007, 2008, 2009, 2010], "format": "d", "title": "Tempo (dias)", "titleY": 66, "titleBaseline": "middle"}},
    "y": {"field": "v", "type": "quantitative", "scale": {"domain": [15.75, 22.25], "nice": false, "zero": false}, "axis": {"values": [16, 17, 18, 19, 20, 21, 22], "labelExpr": "datum.value % 2 == 0 ? datum.label : ''", "title": "Deslocamento (mm)", "titleX": -81, "titleY": 71.5}}
  }
},
{
  "width": 708, "height": 143,
  "data": {"name": "semanas"},
  "mark": {"type": "point", "shape": "circle", "filled": false, "size": 60, "strokeWidth": 1, "color": "#7f7f7f", "opacity": 1, "clip": true},
  "encoding": {
    "x": {"field": "t", "type": "quantitative", "scale": {"domain": [2004.8, 2010.2], "nice": false, "zero": false}, "axis": {"values": [2005, 2006, 2007, 2008, 2009, 2010], "format": "d", "title": "Tempo (semanas)", "titleY": 66, "titleBaseline": "middle"}},
    "y": {"field": "v", "type": "quantitative", "scale": {"domain": [15.75, 22.25], "nice": false, "zero": false}, "axis": {"values": [16, 17, 18, 19, 20, 21, 22], "labelExpr": "datum.value % 2 == 0 ? datum.label : ''", "title": "Deslocamento (mm)", "titleX": -81, "titleY": 71.5}}
  }
},
{
  "width": 708, "height": 143,
  "data": {"name": "meses"},
  "mark": {"type": "point", "shape": "circle", "filled": false, "size": 60, "strokeWidth": 1, "color": "#7f7f7f", "opacity": 1, "clip": true},
  "encoding": {
    "x": {"field": "t", "type": "quantitative", "scale": {"domain": [2004.8, 2010.2], "nice": false, "zero": false}, "axis": {"values": [2005, 2006, 2007, 2008, 2009, 2010], "format": "d", "title": "Tempo (meses)", "titleY": 66, "titleBaseline": "middle"}},
    "y": {"field": "v", "type": "quantitative", "scale": {"domain": [15.75, 22.25], "nice": false, "zero": false}, "axis": {"values": [16, 17, 18, 19, 20, 21, 22], "labelExpr": "datum.value % 2 == 0 ? datum.label : ''", "title": "Deslocamento (mm)", "titleX": -81, "titleY": 71.5}}
  }
}
]
}
